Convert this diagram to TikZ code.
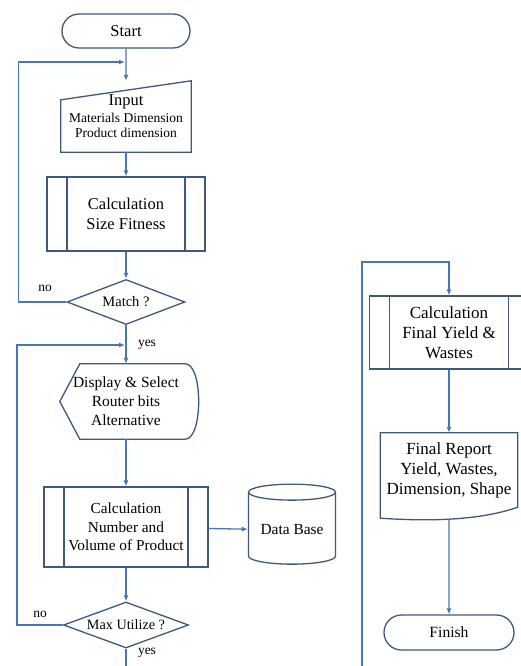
\documentclass[tikz,border=0pt]{standalone}
\usepackage{fontspec}
\setmainfont{Liberation Serif}
\usetikzlibrary{shapes.geometric,shapes.misc,arrows.meta,calc}
\definecolor{edgeblue}{RGB}{62,88,128}
\definecolor{flowblue}{RGB}{74,118,178}
\newcommand{\fs}[2]{\fontsize{#1}{#2}\selectfont}
\begin{document}
\begin{tikzpicture}[x=1pt, y=-1pt,
    outline/.style={draw=edgeblue, line width=1.3pt},
    terminal/.style={rounded rectangle, outline, inner sep=0pt},
    process/.style={rectangle, outline, inner sep=0pt, align=center,
        path picture={\draw[edgeblue, line width=1.3pt]
            ([xshift=20pt]path picture bounding box.north west) -- ([xshift=20pt]path picture bounding box.south west)
            ([xshift=-20pt]path picture bounding box.north east) -- ([xshift=-20pt]path picture bounding box.south east);}},
    decision/.style={diamond, aspect=2.7, outline, inner sep=0pt},
    flow/.style={draw=flowblue, line width=1.3pt, -{Latex[length=6pt,width=5pt]}},
    link/.style={draw=flowblue, line width=1.3pt},
    tag/.style={font=\fs{13.5}{16}}]
    % Frame
    \useasboundingbox (0,0) rectangle (521,666);
    \fill[white] (0,0) rectangle (521,666);
    \clip (0,0) rectangle (521,666);

    % Left column
    \node[terminal, minimum width=128pt, minimum height=34pt, font=\fs{16.5}{20}] (start) at (126,31) {Start};
    \node[align=center, minimum width=130pt, minimum height=71pt, inner sep=0pt, font=\fs{13.5}{15.5}] (input) at (126,116.5)
        {{\fs{16.5}{18}Input}\\[1pt]Materials Dimension\\Product dimension};
    \draw[outline] ($(input.north west)+(0,19)$) -- (input.north east) -- (input.south east) -- (input.south west) -- cycle;
    \node[process, minimum width=158pt, minimum height=74pt, font=\fs{16.5}{20}] (calc1) at (126,214) {Calculation\\Size Fitness};
    \node[decision, minimum width=118pt, minimum height=45pt, font=\fs{14.5}{17}] (match) at (126,302) {Match ?};
    \node[align=center, minimum width=140pt, minimum height=75pt, inner sep=0pt, font=\fs{15.5}{19}] (display) at (126,401.5)
        {Display \& Select\\Router bits\\Alternative};
    \draw[outline] ($(display.west)+(4,0)$) -- ($(display.north west)+(24,0)$) -- ($(display.north east)+(-11,0)$)
        .. controls ($(display.north east)+(7,0)$) and ($(display.south east)+(7,0)$) .. ($(display.south east)+(-11,0)$)
        -- ($(display.south west)+(24,0)$) -- cycle;
    \node[process, minimum width=164pt, minimum height=80pt, font=\fs{15.3}{18.5}] (calc2) at (126,527) {Calculation\\Number and\\Volume of Product};
    \node[cylinder, shape border rotate=90, aspect=0.23, outline, minimum width=87pt, minimum height=80pt, font=\fs{15.4}{18}] (db) at (292,530) {Data Base};
    \node[decision, minimum width=125pt, minimum height=46pt, font=\fs{14.2}{17}] (maxu) at (126,625) {Max Utilize ?};

    % Right column
    \node[process, minimum width=159pt, minimum height=73pt, font=\fs{17}{20}] (calc3) at (449,332.5) {Calculation\\Final Yield \&\\Wastes};
    \node[align=center, minimum width=137pt, minimum height=74pt, inner sep=0pt, font=\fs{17}{20}] (report) at (449,470)
        {Final Report\\Yield, Wastes,\\Dimension, Shape};
    \draw[outline] (report.north west) -- (report.north east) -- (report.south east)
        .. controls ($(report.south east)+(-40,14)$) and ($(report.south west)+(45,14)$) .. ($(report.south west)+(0,11)$) -- cycle;
    \node[terminal, minimum width=130pt, minimum height=35pt, font=\fs{15.6}{18}] (finish) at (449,632.5) {Finish};

    % Free ends
    \coordinate (loopA) at (125,62);
    \coordinate (loopB) at (125,345);
    \coordinate (yesdown) at (126,670);
    \coordinate (rbot) at (362,670);
    \coordinate (rtop) at (449,262);

    % Connectors
    \draw[flow] (start) -- (input);
    \draw[flow] (input) -- (calc1);
    \draw[flow] (calc1) -- (match);
    \draw[flow] (match) -- (display);
    \draw[flow] (display) -- (calc2);
    \draw[flow] (calc2) -- (db);
    \draw[flow] (calc2) -- (maxu);
    \draw[link] (maxu) -- (yesdown);
    \draw[flow] (match.west) -- ++(-48,0) |- (loopA);
    \draw[flow] (maxu.west) -- ++(-46,0) |- (loopB);
    \draw[flow] (rbot) |- (rtop) -- (calc3);
    \draw[flow] (calc3) -- (report);
    \draw[flow] ($(report.south)+(0,12)$) -- (finish);

    % Labels
    \node[tag] (noA) at (45,288) {no};
    \node[tag] (yesA) at (147,345) {yes};
    \node[tag] (noB) at (40,614) {no};
    \node[tag] (yesB) at (147,653) {yes};
\end{tikzpicture}
\end{document}
